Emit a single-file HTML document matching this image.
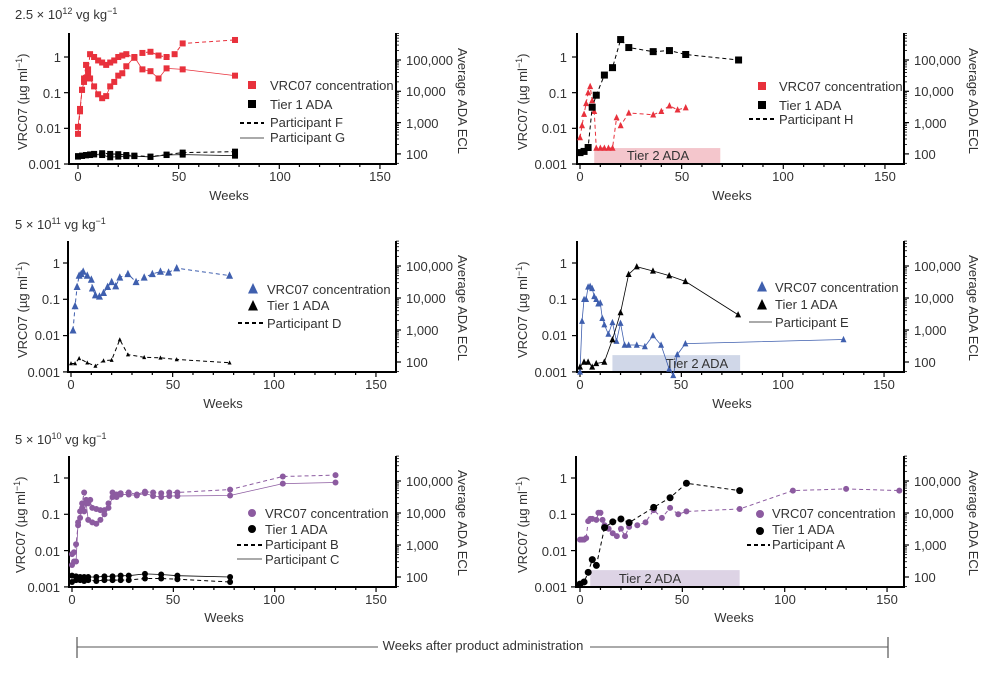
<!DOCTYPE html>
<html><head><meta charset="utf-8"><style>
body{margin:0;background:#fff}
svg{display:block;font-family:"Liberation Sans",Arial,sans-serif;fill:#333}
.t{font-size:13px}
.l{font-size:13px}
</style></head><body>
<svg id="s" width="1000" height="677" viewBox="0 0 1000 677" xmlns="http://www.w3.org/2000/svg">
<g id="g"></g>
<text x="15" y="19" class="t">2.5 × 10<tspan dy="-5" font-size="9">12</tspan><tspan dy="5"> vg kg</tspan><tspan dy="-5" font-size="9">−1</tspan></text>
<text x="15" y="229" class="t">5 × 10<tspan dy="-5" font-size="9">11</tspan><tspan dy="5"> vg kg</tspan><tspan dy="-5" font-size="9">−1</tspan></text>
<text x="15" y="444" class="t">5 × 10<tspan dy="-5" font-size="9">10</tspan><tspan dy="5"> vg kg</tspan><tspan dy="-5" font-size="9">−1</tspan></text>

<text class="t" transform="translate(27,150) rotate(-90)">VRC07 (µg ml<tspan dy="-5" font-size="9">−1</tspan><tspan dy="5">)</tspan></text>
<text class="t" transform="translate(527,150) rotate(-90)">VRC07 (µg ml<tspan dy="-5" font-size="9">−1</tspan><tspan dy="5">)</tspan></text>
<text class="t" transform="translate(27,358) rotate(-90)">VRC07 (µg ml<tspan dy="-5" font-size="9">−1</tspan><tspan dy="5">)</tspan></text>
<text class="t" transform="translate(527,358) rotate(-90)">VRC07 (µg ml<tspan dy="-5" font-size="9">−1</tspan><tspan dy="5">)</tspan></text>
<text class="t" transform="translate(25,573) rotate(-90)">VRC07 (µg ml<tspan dy="-5" font-size="9">−1</tspan><tspan dy="5">)</tspan></text>
<text class="t" transform="translate(527,573) rotate(-90)">VRC07 (µg ml<tspan dy="-5" font-size="9">−1</tspan><tspan dy="5">)</tspan></text>
<text class="t" transform="translate(458,48) rotate(90)">Average ADA ECL</text>
<text class="t" transform="translate(969,48) rotate(90)">Average ADA ECL</text>
<text class="t" transform="translate(458,255) rotate(90)">Average ADA ECL</text>
<text class="t" transform="translate(969,255) rotate(90)">Average ADA ECL</text>
<text class="t" transform="translate(458,470) rotate(90)">Average ADA ECL</text>
<text class="t" transform="translate(969,470) rotate(90)">Average ADA ECL</text>

<g class="t" text-anchor="end">
<text x="61" y="62">1</text><text x="61" y="98">0.1</text><text x="61" y="133">0.01</text><text x="61" y="169">0.001</text>
<text x="567" y="62">1</text><text x="567" y="98">0.1</text><text x="567" y="133">0.01</text><text x="567" y="169">0.001</text>
<text x="60" y="268">1</text><text x="60" y="304">0.1</text><text x="60" y="340">0.01</text><text x="60" y="377">0.001</text>
<text x="567" y="268">1</text><text x="567" y="304">0.1</text><text x="567" y="340">0.01</text><text x="567" y="377">0.001</text>
<text x="60" y="483">1</text><text x="60" y="519">0.1</text><text x="60" y="556">0.01</text><text x="60" y="592">0.001</text>
<text x="567" y="483">1</text><text x="567" y="519">0.1</text><text x="567" y="556">0.01</text><text x="567" y="592">0.001</text>
</g>
<g class="t">
<text x="406" y="65">100,000</text><text x="406" y="96">10,000</text><text x="406" y="128">1,000</text><text x="406" y="159">100</text>
<text x="914" y="65">100,000</text><text x="914" y="96">10,000</text><text x="914" y="128">1,000</text><text x="914" y="159">100</text>
<text x="406" y="271">100,000</text><text x="406" y="303">10,000</text><text x="406" y="335">1,000</text><text x="406" y="367">100</text>
<text x="914" y="271">100,000</text><text x="914" y="303">10,000</text><text x="914" y="335">1,000</text><text x="914" y="367">100</text>
<text x="406" y="486">100,000</text><text x="406" y="518">10,000</text><text x="406" y="550">1,000</text><text x="406" y="582">100</text>
<text x="914" y="486">100,000</text><text x="914" y="518">10,000</text><text x="914" y="550">1,000</text><text x="914" y="582">100</text>
</g>
<g class="t" text-anchor="middle">
<text x="78" y="181">0</text><text x="179" y="181">50</text><text x="280" y="181">100</text><text x="380" y="181">150</text>
<text x="580" y="181">0</text><text x="682" y="181">50</text><text x="783" y="181">100</text><text x="885" y="181">150</text>
<text x="71" y="389">0</text><text x="173" y="389">50</text><text x="274" y="389">100</text><text x="376" y="389">150</text>
<text x="580" y="389">0</text><text x="681" y="389">50</text><text x="783" y="389">100</text><text x="884" y="389">150</text>
<text x="72" y="604">0</text><text x="173" y="604">50</text><text x="274" y="604">100</text><text x="376" y="604">150</text>
<text x="580" y="604">0</text><text x="682" y="604">50</text><text x="785" y="604">100</text><text x="887" y="604">150</text>
<text x="229" y="200">Weeks</text><text x="732" y="200">Weeks</text>
<text x="223" y="408">Weeks</text><text x="732" y="408">Weeks</text>
<text x="224" y="622">Weeks</text><text x="734" y="622">Weeks</text>
</g>
<g class="l">
<text x="270" y="90">VRC07 concentration</text><text x="270" y="109">Tier 1 ADA</text><text x="270" y="127">Participant F</text><text x="270" y="142">Participant G</text>
<text x="779" y="91">VRC07 concentration</text><text x="779" y="110">Tier 1 ADA</text><text x="779" y="124">Participant H</text>
<text x="267" y="294">VRC07 concentration</text><text x="267" y="310">Tier 1 ADA</text><text x="267" y="328">Participant D</text>
<text x="775" y="292">VRC07 concentration</text><text x="775" y="309">Tier 1 ADA</text><text x="775" y="327">Participant E</text>
<text x="265" y="518">VRC07 concentration</text><text x="265" y="534">Tier 1 ADA</text><text x="265" y="549">Participant B</text><text x="265" y="564">Participant C</text>
<text x="772" y="518">VRC07 concentration</text><text x="772" y="534">Tier 1 ADA</text><text x="772" y="549">Participant A</text>
</g>
<g class="t" text-anchor="middle" fill="#333">
<text x="658" y="160">Tier 2 ADA</text>
<text x="697" y="368">Tier 2 ADA</text>
<text x="650" y="583">Tier 2 ADA</text>
<text x="483" y="650">Weeks after product administration</text>
</g>
</svg>
<script>
var NS="http://www.w3.org/2000/svg",G=document.getElementById('g');
function el(t,a){var e=document.createElementNS(NS,t);for(var k in a)e.setAttribute(k,a[k]);G.appendChild(e);return e;}
function L(x1,y1,x2,y2,w,c,d){var o={x1:x1,y1:y1,x2:x2,y2:y2,stroke:c||'#000','stroke-width':w||1};if(d)o['stroke-dasharray']=d;return el('line',o);}
var RED='#e8313c',BLU='#3f5fae',PUR='#8c5ba0';
function panel(p){
  p.X=function(w){return p.x0+w*p.xs};
  p.Y=function(v){return p.y1-Math.log10(v)*p.dec};
  p.R=function(r){return p.r5-(Math.log10(r)-5)*p.rdec};
  if(p.tier){el('rect',{x:p.X(p.tier[0]),y:p.Y(p.tier[2]),width:p.X(p.tier[1])-p.X(p.tier[0]),height:p.yB-p.Y(p.tier[2]),fill:p.tier[3]});}
  L(p.ox,p.top,p.ox,p.yB+1,2);L(p.xR,p.top,p.xR,p.yB+1,2);L(p.ox,p.yB,p.xR,p.yB,2);
  for(var w=0;w<=160;w+=10){var x=p.X(w);if(x>p.xR-2)break;L(x,p.yB,x,p.yB+(w%50?3:5),1.2);}
  for(var k=0;k>=-3;k--){var y=p.y1+(-k)*p.dec;L(p.ox-5,y,p.ox,y,1.2);}
  for(var e=2;e<=5;e++){var y=p.R(Math.pow(10,e));L(p.xR,y,p.xR+5,y,1.2);
    for(var m=2;m<10;m++){var yy=p.R(m*Math.pow(10,e));if(yy>p.top&&yy<p.yB)L(p.xR,yy,p.xR+3,yy,0.8);}}
  var y=p.R(50);L(p.xR,y,p.xR+3,y,0.8);
}
function series(p,data,right,col,dash,mk,sz,lw){
  var pts=[];for(var i=0;i<data.length;i+=2){pts.push([p.X(data[i]),right?p.R(data[i+1]):p.Y(data[i+1])]);}
  var o={points:pts.map(function(q){return q.join(',')}).join(' '),fill:'none',stroke:col,'stroke-width':lw||1};
  if(dash)o['stroke-dasharray']=dash;el('polyline',o);
  pts.forEach(function(q){marker(q[0],q[1],mk,col,sz)});
}
function marker(x,y,mk,col,s){
  if(mk=='s')el('rect',{x:x-s/2,y:y-s/2,width:s,height:s,fill:col});
  else if(mk=='t')el('polygon',{points:(x)+','+(y-s*0.6)+' '+(x-s/2)+','+(y+s*0.45)+' '+(x+s/2)+','+(y+s*0.45),fill:col});
  else el('circle',{cx:x,cy:y,r:s/2,fill:col});
}
var P1={ox:69,x0:78,xs:2.013,yB:164,y1:57,dec:35.67,xR:396,r5:60,rdec:31.3,top:33};
var P2={ox:577,x0:580,xs:2.033,yB:164,y1:57,dec:35.67,xR:904,r5:60,rdec:31.3,top:33,tier:[7,69,0.0028,'#f4c6cc']};
var P3={ox:68,x0:71,xs:2.033,yB:372,y1:263,dec:36.3,xR:396,r5:266,rdec:32,top:241};
var P4={ox:577,x0:580,xs:2.027,yB:372,y1:263,dec:36.3,xR:904,r5:266,rdec:32,top:241,tier:[16,79,0.0029,'#d0d7e8']};
var P5={ox:69,x0:72,xs:2.027,yB:587,y1:478,dec:36.3,xR:396,r5:481,rdec:32,top:456};
var P6={ox:576,x0:580,xs:2.047,yB:587,y1:478,dec:36.3,xR:904,r5:481,rdec:32,top:456,tier:[5,78,0.0029,'#ddd3e5']};
[P1,P2,P3,P4,P5,P6].forEach(panel);
var D='4,3';
series(P1,[0,0.007,1,0.03,2,0.12,3,0.25,4,0.6,5,0.45,6,1.2,8,1.0,10,0.8,12,0.7,14,0.6,16,0.7,18,0.8,20,1.0,22,1.1,24,1.2,28,0.95,32,1.3,36,1.4,40,1.1,44,1.0,48,1.2,52,2.4,78,3.0],0,RED,D,'s',6);
series(P1,[0,0.011,1,0.035,2,0.12,3,0.2,4,0.26,5,0.32,6,0.25,8,0.15,10,0.09,12,0.07,14,0.08,16,0.15,18,0.2,20,0.3,22,0.35,24,0.55,28,1.0,32,0.45,36,0.4,40,0.25,44,0.48,52,0.45,78,0.3],0,RED,null,'s',6,0.8);
series(P1,[0,85,2,88,4,92,6,96,8,100,12,105,16,100,20,98,24,92,28,88,36,82,44,95,52,110,78,118],1,'#000',D,'s',6);
series(P1,[0,82,2,86,4,90,6,92,8,96,12,92,16,78,20,82,24,85,28,85,36,80,44,92,52,95,78,88],1,'#000',null,'s',6,0.8);
series(P2,[0,0.0055,1,0.012,2,0.025,3,0.05,4,0.1,5,0.15,6,0.06,7,0.03,8,0.0028,10,0.0028,12,0.0028,14,0.0028,16,0.0028,18,0.02,20,0.012,24,0.027,36,0.024,40,0.03,44,0.043,48,0.033,52,0.038],0,RED,D,'t',6);
series(P2,[0,110,2,120,4,160,6,3100,8,7500,12,33000,16,57000,20,450000,24,250000,36,185000,44,200000,52,150000,78,100000],1,'#000',D,'s',7);
series(P3,[1,0.014,2,0.065,3,0.22,4,0.45,5,0.5,6,0.58,8,0.45,10,0.35,10.5,0.2,12,0.13,14,0.12,16,0.15,18,0.22,20,0.3,22,0.23,24,0.4,28,0.5,32,0.3,36,0.4,40,0.5,44,0.58,48,0.55,52,0.72,78,0.45],0,BLU,D,'t',7);
series(P3,[0,90,2,90,4,130,8,95,12,75,16,110,20,115,24,500,28,170,36,140,44,135,52,120,78,95],1,'#000',D,'t',4);
series(P4,[0,0.001,1,0.025,2,0.1,3,0.1,4,0.22,5,0.23,6,0.2,7,0.12,8,0.1,9,0.075,10,0.08,11,0.03,12,0.02,14,0.011,16,0.023,18,0.007,20,0.022,22,0.0055,24,0.0055,28,0.0055,32,0.005,36,0.01,40,0.0055,44,0.0012,46,0.0008,48,0.003,52,0.006,130,0.0078],0,BLU,null,'t',6,0.8);
series(P4,[0,70,2,100,4,100,6,70,8,90,12,100,16,500,20,3500,24,55000,28,95000,36,70000,44,50000,52,33000,78,3000],1,'#000',null,'t',6,0.8);
series(P5,[0,0.008,1,0.009,2,0.015,3,0.05,4,0.12,5,0.2,6,0.4,7,0.25,8,0.2,9,0.25,10,0.15,12,0.14,14,0.13,16,0.13,18,0.2,20,0.4,22,0.35,24,0.38,28,0.4,32,0.35,36,0.42,40,0.4,44,0.38,48,0.4,52,0.4,78,0.48,104,1.1,130,1.2],0,PUR,D,'c',6);
series(P5,[0,0.004,1,0.005,2,0.005,3,0.06,4,0.08,5,0.15,6,0.12,7,0.2,8,0.07,10,0.06,12,0.055,14,0.07,16,0.1,18,0.15,20,0.3,22,0.3,24,0.35,28,0.35,32,0.33,36,0.38,40,0.32,44,0.3,48,0.32,52,0.32,78,0.33,104,0.7,130,0.75],0,PUR,null,'c',6,0.8);
series(P5,[0,70,2,80,4,80,6,75,8,80,12,75,16,80,20,80,24,80,28,80,36,90,44,90,52,85,78,70],1,'#000',D,'c',6);
series(P5,[0,110,2,105,4,100,6,100,8,100,12,100,16,105,20,105,24,110,28,110,36,125,44,120,52,110,78,100],1,'#000',null,'c',6,0.8);
series(P6,[0,0.02,1,0.02,2,0.02,3,0.022,4,0.065,5,0.075,6,0.075,8,0.07,9,0.11,10,0.11,11,0.07,12,0.05,14,0.04,16,0.03,18,0.025,20,0.04,22,0.025,24,0.045,28,0.05,32,0.06,36,0.13,40,0.08,44,0.15,48,0.1,52,0.12,78,0.14,104,0.45,130,0.5,156,0.45],0,PUR,D,'c',6);
series(P6,[0,60,2,70,4,140,6,350,8,230,12,3500,16,5300,20,6500,24,5000,36,15000,44,30000,52,85000,78,50000],1,'#000',D,'c',7);
marker(252,85,'s',RED,8);marker(252,104,'s','#000',8);L(240,123,264,123,2,'#000','4,3');L(240,138,264,138,1,'#555');
marker(762,86,'s',RED,8);marker(762,105,'s','#000',8);L(749,119,777,119,2,'#000','4,3');
marker(253,289,'t',BLU,10);marker(253,306,'t','#000',10);L(238,323,264,323,2,'#000','4,3');
marker(762,287,'t',BLU,10);marker(762,305,'t','#000',10);L(749,322,772,322,1,'#555');
marker(252,513,'c',PUR,8);marker(252,529,'c','#000',8);L(237,545,262,545,2,'#000','4,3');L(237,559,262,559,1,'#555');
marker(760,514,'c',PUR,8);marker(760,531,'c','#000',8);L(747,545,770,545,2,'#000','4,3');
L(77,637,77,658,1.2,'#555');L(888,637,888,658,1.2,'#555');L(77,647,378,647,1,'#555');L(590,647,888,647,1,'#555');
</script>
</body></html>
